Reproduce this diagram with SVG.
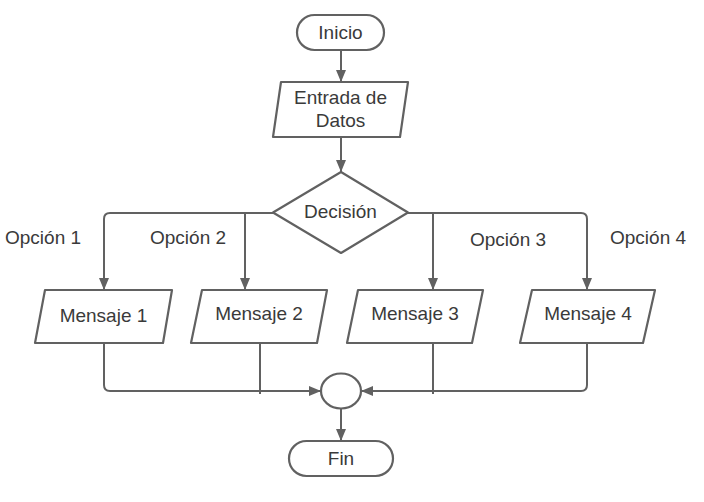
<svg xmlns="http://www.w3.org/2000/svg" width="704" height="502" viewBox="0 0 704 502">
<style>
.shape{fill:#fff;stroke:#616161;stroke-width:2.2;stroke-linejoin:round}
.conn{fill:none;stroke:#616161;stroke-width:2}
text{font-family:"Liberation Sans",Arial,sans-serif;font-size:19px;fill:#3a3a3a;text-anchor:middle}
.lbl{text-anchor:start}
</style>
<defs>
<marker id="arr" viewBox="0 0 12 10" refX="12" refY="5" markerWidth="12" markerHeight="10" markerUnits="userSpaceOnUse" orient="auto">
<path d="M0,0 L12,5 L0,10 z" fill="#616161"/>
</marker>
</defs>
<rect width="704" height="502" fill="#fff"/>
<g id="connectors">
<path class="conn" d="M341,50 V82" marker-end="url(#arr)"/>
<path class="conn" d="M341,137 V172" marker-end="url(#arr)"/>
<path class="conn" d="M273,213 H110 Q104,213 104,219 V290" marker-end="url(#arr)"/>
<path class="conn" d="M245,213 V290" marker-end="url(#arr)"/>
<path class="conn" d="M408,213 H581 Q587,213 587,219 V290" marker-end="url(#arr)"/>
<path class="conn" d="M433,213 V290" marker-end="url(#arr)"/>
<path class="conn" d="M104,343 V385 Q104,391 110,391 H321" marker-end="url(#arr)"/>
<path class="conn" d="M587,343 V385 Q587,391 581,391 H361" marker-end="url(#arr)"/>
<path class="conn" d="M260,343 V394"/>
<path class="conn" d="M433,343 V394"/>
<path class="conn" d="M341,408 V441" marker-end="url(#arr)"/>
</g>
<g id="inicio">
<rect class="shape" x="297" y="15" width="87" height="35" rx="17.5"/>
<text x="340.5" y="39">Inicio</text>
</g>
<g id="entrada">
<path class="shape" d="M281,82 H408 L400,137 H273 Z"/>
<text x="340.5" y="104">Entrada de</text>
<text x="340.5" y="127">Datos</text>
</g>
<g id="decision">
<path class="shape" d="M341,172 L408,212.5 L341,253 L273,212.5 Z"/>
<text x="340.5" y="218">Decisión</text>
</g>
<g id="labels">
<text class="lbl" x="5" y="244">Opción 1</text>
<text class="lbl" x="150" y="244">Opción 2</text>
<text class="lbl" x="470" y="246">Opción 3</text>
<text class="lbl" x="610" y="244">Opción 4</text>
</g>
<g id="mensaje1">
<path class="shape" d="M45,290 H172 L163,343 H35 Z"/>
<text x="103.5" y="322">Mensaje 1</text>
</g>
<g id="mensaje2">
<path class="shape" d="M202,290 H327 L317,343 H191 Z"/>
<text x="259" y="320">Mensaje 2</text>
</g>
<g id="mensaje3">
<path class="shape" d="M358,290 H483 L472,343 H347 Z"/>
<text x="415" y="320">Mensaje 3</text>
</g>
<g id="mensaje4">
<path class="shape" d="M532,290 H655 L643,343 H520 Z"/>
<text x="588" y="320">Mensaje 4</text>
</g>
<g id="union">
<ellipse class="shape" cx="341" cy="391" rx="20" ry="17.5"/>
</g>
<g id="fin">
<rect class="shape" x="289" y="441" width="104" height="35" rx="17.5"/>
<text x="341" y="465">Fin</text>
</g>
</svg>
